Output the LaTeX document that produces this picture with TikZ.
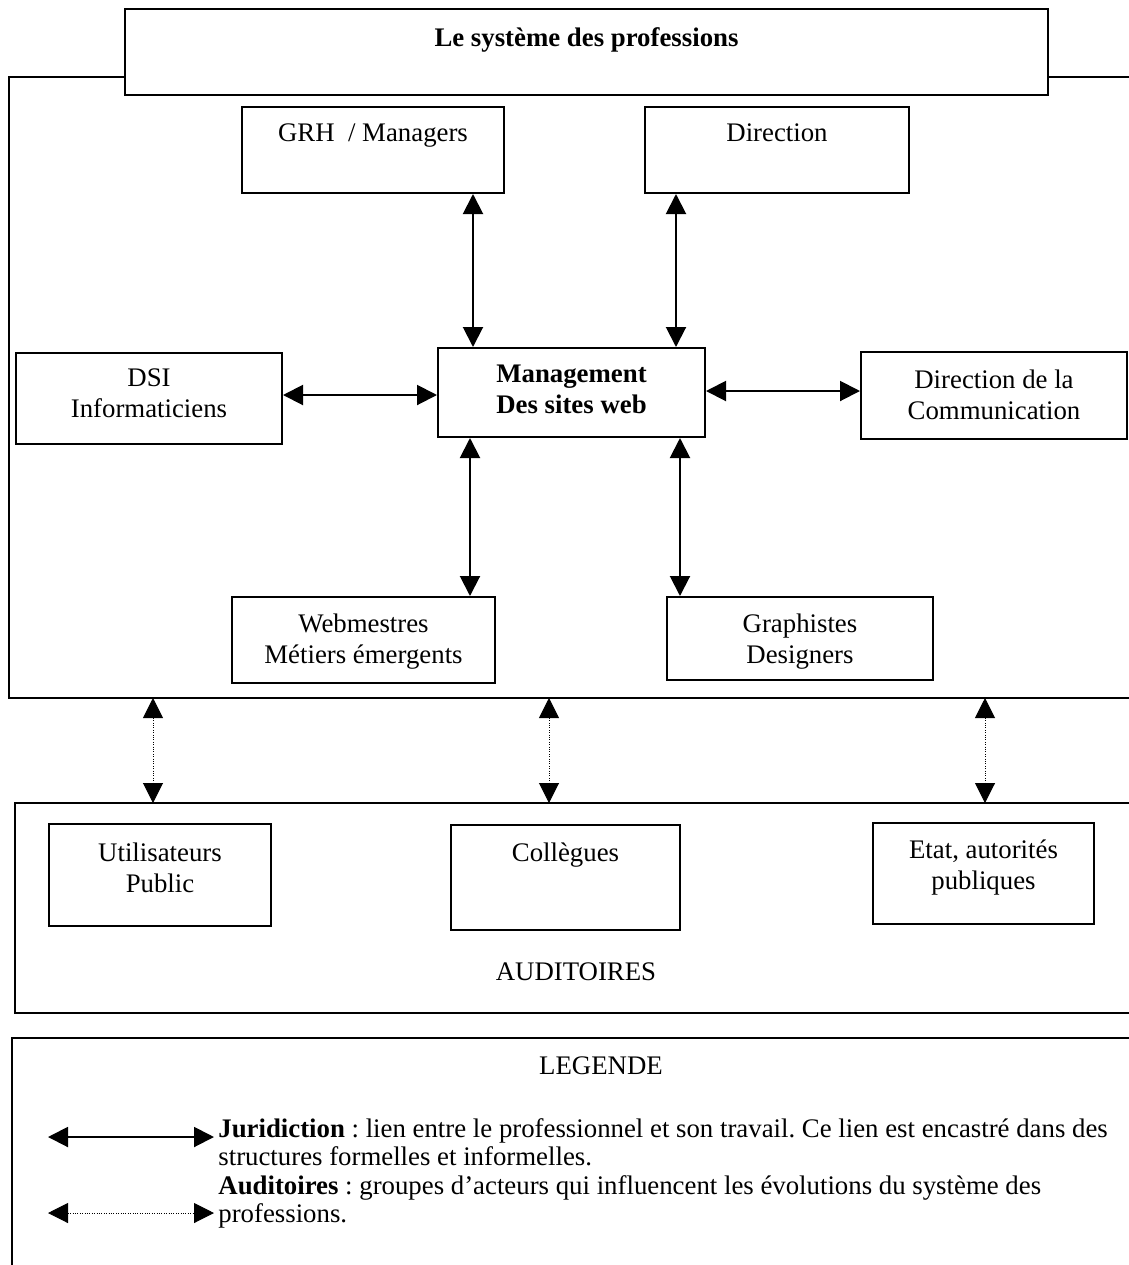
\documentclass[tikz,border=0pt]{standalone}
\usepackage{fontspec}
\setmainfont{Liberation Serif}
\usetikzlibrary{arrows.meta}
\newcommand\fsz{\fontsize{13.4}{15.6}\selectfont}
\frenchspacing

\begin{document}
\begin{tikzpicture}[x=0.5pt,y=-0.5pt]
\tikzstyle{box}=[draw,line width=1pt,inner sep=0pt]
\tikzstyle{txt}=[anchor=base,align=center,inner sep=0pt,font=\fsz]
\tikzstyle{frame}=[line width=1pt]
\tikzstyle{jur}=[line width=1pt,{Triangle[length=10pt,width=10pt]}-{Triangle[length=10pt,width=10pt]}]
\tikzstyle{audi}=[jur,line width=0.5pt,dash pattern=on 0.5pt off 0.7pt]
\useasboundingbox (0,0) rectangle (1129,1265);

\draw[frame] (125,77) -- (9,77) -- (9,698) -- (1129,698);
\draw[frame] (1048,77) -- (1129,77);
\draw[frame] (1129,803) -- (15,803) -- (15,1013) -- (1129,1013);
\draw[frame] (1129,1038) -- (12,1038) -- (12,1265);

\node[box,minimum width=461.5pt,minimum height=43pt,label={[txt,yshift=-19pt,font=\fsz\bfseries]north:Le système des professions}] (titre) at (586.5,52) {};
\node[box,minimum width=131pt,minimum height=43pt,label={[txt,yshift=-17.5pt]north:GRH\ \ / Managers}] (grh) at (373,150) {};
\node[box,minimum width=132pt,minimum height=43pt,label={[txt,yshift=-17.5pt]north:Direction}] (dir) at (777,150) {};
\node[box,minimum width=133pt,minimum height=45.5pt,label={[txt,yshift=-32.6pt]north:DSI\\Informaticiens}] (dsi) at (149,398.5) {};
\node[box,minimum width=133.5pt,minimum height=44.5pt,label={[txt,yshift=-33.1pt,font=\fsz\bfseries]north:Management\\Des sites web}] (mgmt) at (571.5,392.5) {};
\node[box,minimum width=133pt,minimum height=43.5pt,label={[txt,yshift=-34.1pt]north:Direction de la\\Communication}] (com) at (994,395.5) {};
\node[box,minimum width=131.5pt,minimum height=43pt,label={[txt,yshift=-33.6pt]north:Webmestres\\Métiers émergents}] (web) at (363.5,640) {};
\node[box,minimum width=133pt,minimum height=41.5pt,label={[txt,yshift=-33.6pt]north:Graphistes\\Designers}] (gra) at (800,638.5) {};

\node[box,minimum width=111pt,minimum height=51pt,label={[txt,yshift=-34.6pt]north:Utilisateurs\\Public}] (uti) at (160,875) {};
\node[box,minimum width=114.5pt,minimum height=52.5pt,label={[txt,yshift=-18.5pt]north:Collègues}] (col) at (565.5,877.5) {};
\node[box,minimum width=110.5pt,minimum height=50.5pt,label={[txt,yshift=-33.6pt]north:Etat, autorités\\publiques}] (eta) at (983.5,873.5) {};
\node[txt] (aud) at (576,980) {AUDITOIRES};

\draw[jur] (grh.south -| 473,0) -- (mgmt.north -| 473,0);
\draw[jur] (dir.south -| 676,0) -- (mgmt.north -| 676,0);
\draw[jur] (dsi.east |- 0,395) -- (mgmt.west |- 0,395);
\draw[jur] (mgmt.east |- 0,391) -- (com.west |- 0,391);
\draw[jur] (mgmt.south -| 470,0) -- (web.north -| 470,0);
\draw[jur] (mgmt.south -| 680,0) -- (gra.north -| 680,0);

\coordinate (s1) at (153,698);
\coordinate (s2) at (549,698);
\coordinate (s3) at (985,698);
\coordinate (a1) at (153,803);
\coordinate (a2) at (549,803);
\coordinate (a3) at (985,803);
\draw[audi] (s1) -- (a1);
\draw[audi] (s2) -- (a2);
\draw[audi] (s3) -- (a3);

\node[txt] (leg) at (601,1074) {LEGENDE};
\node[txt,anchor=north west,align=left,font=\fontsize{13.4}{14.2}\selectfont] (legtxt) at (218,1118)
  {\textbf{Juridiction} : lien entre le professionnel et son travail. Ce lien est encastré dans des\\
   structures formelles et informelles.\\
   \textbf{Auditoires} : groupes d’acteurs qui influencent les évolutions du système des\\
   professions.};
\coordinate (j1) at (48,1137);
\coordinate (j2) at (214,1137);
\coordinate (d1) at (48,1213);
\coordinate (d2) at (214,1213);
\draw[jur] (j1) -- (j2);
\draw[audi] (d1) -- (d2);
\end{tikzpicture}
\end{document}
